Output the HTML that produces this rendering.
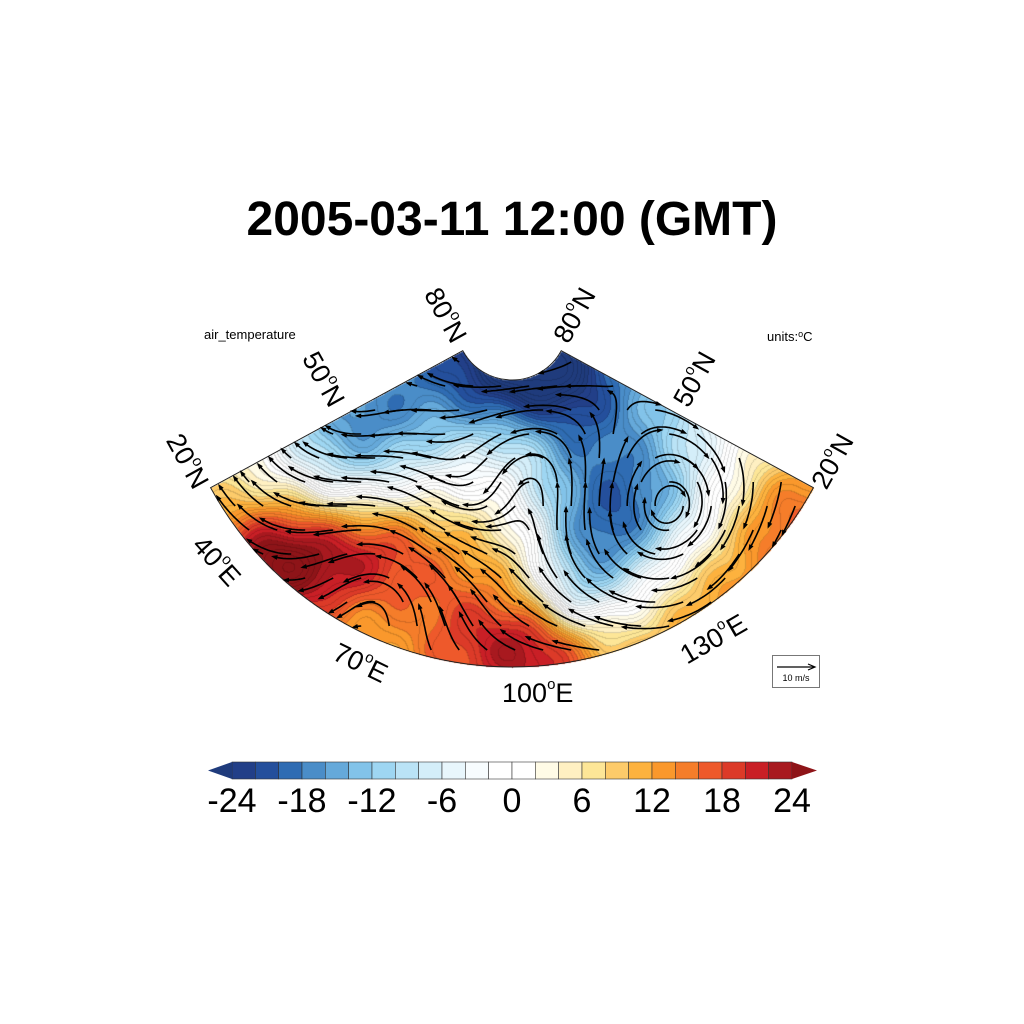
<!DOCTYPE html>
<html><head><meta charset="utf-8"><style>
html,body{margin:0;padding:0;background:#fff;}
#wrap{position:relative;width:1024px;height:1024px;overflow:hidden;font-family:"Liberation Sans",sans-serif;}
.lbl{position:absolute;font-size:27px;color:#000;white-space:nowrap;transform-origin:center center;}
sup{font-size:15px;vertical-align:top;position:relative;top:-2px;}
</style></head><body>
<div id="wrap">
<div style="position:absolute;left:0;width:1024px;top:192px;text-align:center;font-weight:bold;font-size:48px;">2005-03-11 12:00 (GMT)</div>
<div style="position:absolute;left:204px;top:327px;font-size:13px;">air_temperature</div>
<div style="position:absolute;left:767px;top:329px;font-size:13px;">units:<sup style="font-size:9px;top:0">o</sup>C</div>
<canvas id="map" width="1024" height="1024" style="position:absolute;left:0;top:0;"></canvas>
<svg id="ov" width="1024" height="1024" style="position:absolute;left:0;top:0;"></svg>
<div class="lbl" style="left:416px;top:300px;transform:rotate(61deg);">80<sup>o</sup>N</div>
<div class="lbl" style="left:546px;top:300px;transform:rotate(-61deg);">80<sup>o</sup>N</div>
<div class="lbl" style="left:294px;top:364px;transform:rotate(61deg);">50<sup>o</sup>N</div>
<div class="lbl" style="left:666px;top:364px;transform:rotate(-61deg);">50<sup>o</sup>N</div>
<div class="lbl" style="left:158px;top:446px;transform:rotate(61deg);">20<sup>o</sup>N</div>
<div class="lbl" style="left:804px;top:446px;transform:rotate(-61deg);">20<sup>o</sup>N</div>
<div class="lbl" style="left:188px;top:546px;transform:rotate(48deg);">40<sup>o</sup>E</div>
<div class="lbl" style="left:332px;top:648px;transform:rotate(26deg);">70<sup>o</sup>E</div>
<div class="lbl" style="left:502px;top:678px;">100<sup>o</sup>E</div>
<div class="lbl" style="left:678px;top:624px;transform:rotate(-30deg);">130<sup>o</sup>E</div>
<div style="position:absolute;left:772px;top:655px;width:46px;height:31px;border:1px solid #777;background:#fff;">
<svg width="46" height="31" style="position:absolute;left:0;top:0"><line x1="4" y1="11" x2="41" y2="11" stroke="#000" stroke-width="1.2"/><path d="M35,8 L42,11 L35,14" fill="none" stroke="#000" stroke-width="1.2"/></svg>
<div style="position:absolute;left:0;width:46px;top:17px;text-align:center;font-size:9px;">10 m/s</div></div>
<svg id="cb" width="1024" height="1024" style="position:absolute;left:0;top:0;"></svg>
</div>
<script>
const cbColors=["#1f3b7c","#223f88","#244f9c","#2f6cb3","#4a8dc8","#65a9da","#82c3e9","#9ed6f2","#bae3f6","#d4eef9","#e8f6fc","#f7fcfe","#ffffff","#ffffff","#fffbe6","#fff0c2","#fde697","#fdcb6a","#fdb23e","#fa982c","#f57d2a","#ee592b","#dc3a28","#c91f26","#a8191f","#8e1418"];
const cbTicks=[-24,-18,-12,-6,0,6,12,18,24];
// temperature anomalies: x, y, amplitude (degC), sigma (px)
const anomX=[512,560,370,330,600,630,600,470,500,280,250,340,400,450,540,480,770,795,700,660,660,215,570,520,750];
const anomY=[372,375,420,440,430,520,560,480,540,550,580,560,540,600,650,640,500,520,620,560,500,490,600,440,580];
const anomA=[-7,-5,-6,-5,-3,-12,-8,7,5,13,6,12,10,8,12,6,4,5,3,4,-2,-1,-6,4,3];
const anomS=[45,40,55,45,55,55,40,55,40,42,35,42,40,50,40,45,45,40,50,40,35,30,25,30,40];
// vortices for wind: x, y, strength, sigma
const vortX=[680,540,400,330,470,760];
const vortY=[520,470,560,410,500,560];
const vortK=[3.2,-1.6,-1.2,1.2,1.0,-0.8];
const vortS=[70,60,70,50,45,60];

const CX=512,CY=324,R=343,r0=56,ANG=28.5*Math.PI/180;
function inSector(x,y){const dx=x-CX,dy=y-CY;const d=Math.hypot(dx,dy);if(d>R||d<r0)return false;const a=Math.atan2(dy,dx);return a>=ANG&&a<=Math.PI-ANG;}
function temp(x,y){const d=Math.hypot(x-CX,y-CY);let t=-20+(d-r0)/(R-r0)*28;for(let i=0;i<anomX.length;i++){const q=((x-anomX[i])**2+(y-anomY[i])**2)/(2*anomS[i]*anomS[i]);t+=anomA[i]*Math.exp(-q);}
 t+=1.2*Math.sin(x/11)*Math.cos(y/13);return t;}
function bin(t){if(t<-24)return 0;if(t>=24)return 25;return 1+Math.floor((t+24)/2);}
function hex(h){return[parseInt(h.substr(1,2),16),parseInt(h.substr(3,2),16),parseInt(h.substr(5,2),16)];}
const rgb=cbColors.map(hex);
const cv=document.getElementById('map');const ctx=cv.getContext('2d');
const x0=200,y0=318,W=625,H=355;const img=ctx.createImageData(W,H);
const T=new Float32Array(W*H);
for(let j=0;j<H;j++)for(let i=0;i<W;i++)T[j*W+i]=temp(x0+i,y0+j);
for(let j=0;j<H;j++)for(let i=0;i<W;i++){const x=x0+i,y=y0+j;if(!inSector(x,y))continue;const t=T[j*W+i];const b=bin(t);let c=rgb[b];
 const k=(j*W+i)*4;let f=1;
 if(i<W-1&&j<H-1){const t2=T[j*W+i+1],t3=T[(j+1)*W+i];if(Math.floor(t)!==Math.floor(t2)||Math.floor(t)!==Math.floor(t3))f=0.85;}
 img.data[k]=c[0]*f;img.data[k+1]=c[1]*f;img.data[k+2]=c[2]*f;img.data[k+3]=255;}
ctx.putImageData(img,x0,y0);
const NS="http://www.w3.org/2000/svg";
const ov=document.getElementById('ov');
const sx=(a,rr)=>CX+rr*Math.cos(a),sy=(a,rr)=>CY+rr*Math.sin(a);
const outline=document.createElementNS(NS,'path');
outline.setAttribute('d',`M${sx(Math.PI-ANG,R)},${sy(Math.PI-ANG,R)} A${R},${R} 0 0 0 ${sx(ANG,R)},${sy(ANG,R)} L${sx(ANG,r0)},${sy(ANG,r0)} A${r0},${r0} 0 0 1 ${sx(Math.PI-ANG,r0)},${sy(Math.PI-ANG,r0)} Z`);
outline.setAttribute('fill','none');outline.setAttribute('stroke','#222');outline.setAttribute('stroke-width','1');


ov.appendChild(outline);
function wind(x,y){const dx=x-CX,dy=y-CY,d=Math.hypot(dx,dy)||1;let u=-dy/d*1.2,v=dx/d*1.2;
 for(let i=0;i<vortX.length;i++){const ex=x-vortX[i],ey=y-vortY[i];const q=Math.exp(-(ex*ex+ey*ey)/(2*vortS[i]*vortS[i]));u+=-ey/vortS[i]*vortK[i]*q*1.5;v+=ex/vortS[i]*vortK[i]*q*1.5;}
 return[u,v];}
for(let gy=362;gy<670;gy+=24)for(let gx=220;gx<810;gx+=28){const sxp=gx+((gy/24)%2)*14;if(!inSector(sxp,gy))continue;
 let x=sxp,y=gy;const pts=[[x,y]];
 for(let s=0;s<18;s++){const w=wind(x,y);const m=Math.hypot(w[0],w[1])||1;x+=w[0]/m*2.6;y+=w[1]/m*2.6;if(!inSector(x,y))break;pts.push([x,y]);}
 if(pts.length<4)continue;
 const p=document.createElementNS(NS,'path');
 p.setAttribute('d','M'+pts.map(q=>q[0].toFixed(1)+','+q[1].toFixed(1)).join(' L'));
 p.setAttribute('fill','none');p.setAttribute('stroke','#000');p.setAttribute('stroke-width','1.6');
 
 
 ov.appendChild(p);
 const a=pts[pts.length-1],b=pts[pts.length-3];const ang=Math.atan2(a[1]-b[1],a[0]-b[0]);
 const h=document.createElementNS(NS,'path');
 h.setAttribute('d',`M${a[0]+2*Math.cos(ang)},${a[1]+2*Math.sin(ang)} L${a[0]-5*Math.cos(ang-0.5)},${a[1]-5*Math.sin(ang-0.5)} L${a[0]-5*Math.cos(ang+0.5)},${a[1]-5*Math.sin(ang+0.5)} Z`);
 h.setAttribute('fill','#000');
 
 
 ov.appendChild(h);}
const cb=document.getElementById('cb');const cbL=232,cbR=792,cbT=762,cbB=779;
const vx=v=>cbL+(v+24)/48*(cbR-cbL);
for(let i=1;i<=24;i++){const r=document.createElementNS(NS,'rect');const v=-24+(i-1)*2;
 r.setAttribute('x',vx(v));r.setAttribute('y',cbT);r.setAttribute('width',vx(v+2)-vx(v));r.setAttribute('height',cbB-cbT);
 r.setAttribute('fill',cbColors[i]);r.setAttribute('stroke','#333');r.setAttribute('stroke-width','0.6');
 
 
 cb.appendChild(r);}
const tl=document.createElementNS(NS,'path');tl.setAttribute('d',`M${cbL},${cbT} L208,${(cbT+cbB)/2} L${cbL},${cbB} Z`);tl.setAttribute('fill',cbColors[0]);


cb.appendChild(tl);
const tr=document.createElementNS(NS,'path');tr.setAttribute('d',`M${cbR},${cbT} L817,${(cbT+cbB)/2} L${cbR},${cbB} Z`);tr.setAttribute('fill',cbColors[25]);


cb.appendChild(tr);
cbTicks.forEach(v=>{const t=document.createElementNS(NS,'text');t.setAttribute('x',vx(v));t.setAttribute('y',812);t.setAttribute('text-anchor','middle');
 t.setAttribute('font-family','Liberation Sans, sans-serif');t.setAttribute('font-size','34');t.textContent=v;
 
 
 cb.appendChild(t);});
</script>
</body></html>
